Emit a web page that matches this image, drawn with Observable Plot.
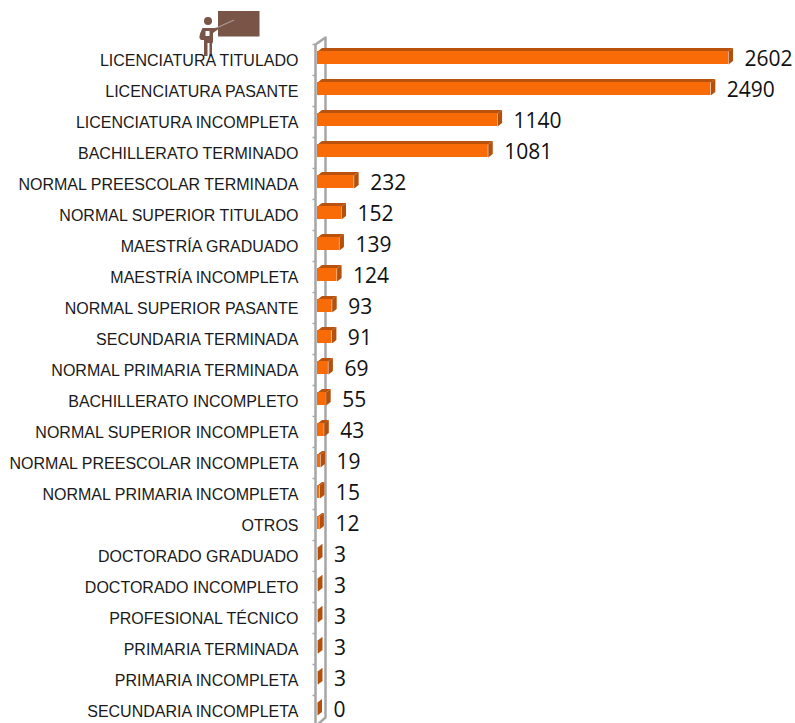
<!DOCTYPE html>
<html><head><meta charset="utf-8">
<script src="https://cdn.jsdelivr.net/npm/d3@7"></script>
<script src="https://cdn.jsdelivr.net/npm/@observablehq/plot@0.6"></script>
<style>html,body{margin:0;padding:0;background:#fff;overflow:hidden}#wrap{position:relative;width:795px;height:723px}#wrap>svg{position:absolute;left:0;top:0}</style>
</head><body><div id="wrap">
<svg id="icon" width="795" height="723" style="z-index:0">
<rect x="218" y="11" width="41.5" height="25.5" fill="#795548"/>
<line x1="214" y1="29" x2="234" y2="20" stroke="#a89a94" stroke-width="1.3"/>
<circle cx="208" cy="21" r="4" fill="#795548"/>
<path d="M203 28h9l8 0-7 5v9l-1 2v12h-2.5V43h-2v13H204V40h-2.5q-2.500-1-2-4t3-8z" fill="#795548"/>
<rect x="205.500" y="31" width="4" height="5" fill="#fff"/>
</svg>
<div id="chart"></div></div>
<script>
const categories = ["LICENCIATURA TITULADO","LICENCIATURA PASANTE","LICENCIATURA INCOMPLETA","BACHILLERATO TERMINADO","NORMAL PREESCOLAR TERMINADA","NORMAL SUPERIOR TITULADO","MAESTRÍA GRADUADO","MAESTRÍA INCOMPLETA","NORMAL SUPERIOR PASANTE","SECUNDARIA TERMINADA","NORMAL PRIMARIA TERMINADA","BACHILLERATO INCOMPLETO","NORMAL SUPERIOR INCOMPLETA","NORMAL PREESCOLAR INCOMPLETA","NORMAL PRIMARIA INCOMPLETA","OTROS","DOCTORADO GRADUADO","DOCTORADO INCOMPLETO","PROFESIONAL TÉCNICO","PRIMARIA TERMINADA","PRIMARIA INCOMPLETA","SECUNDARIA INCOMPLETA"];
const values = [2602,2490,1140,1081,232,152,139,124,93,91,69,55,43,19,15,12,3,3,3,3,3,0];

const rows = categories.map((c,i)=>({c,i,v:values[i]}));
const xUnit = 2602/411, yUnit = 1/31;          // one pixel, in scale units
const depthX = 4.5*xUnit, depthY = 3.5*yUnit;
const barTop = -9*yUnit, barBottom = 4*yUnit, offsetValue = -1*yUnit;

const topFace = rows.flatMap(d=>[
  {z:d.i,x:0,y:d.i+barTop},{z:d.i,x:d.v,y:d.i+barTop},
  {z:d.i,x:d.v+depthX,y:d.i+barTop-depthY},{z:d.i,x:depthX,y:d.i+barTop-depthY}]);
const sideFace = rows.flatMap(d=>[
  {z:d.i,x:d.v,y:d.i+barTop},{z:d.i,x:d.v,y:d.i+barBottom},
  {z:d.i,x:d.v+depthX,y:d.i+barBottom-depthY},{z:d.i,x:d.v+depthX,y:d.i+barTop-depthY}]);

const frontX=-2*xUnit, backX=8*xUnit, wallTop=-23*yUnit, firstTick=-16*yUnit;
const wall=[{x:frontX,y:-16*yUnit},{x:frontX,y:666*yUnit},{x:backX,y:657*yUnit},{x:backX,y:wallTop},{x:frontX,y:-16*yUnit}];
const ticks=d3.range(categories.length).map(i=>({y:i+firstTick}));

const plot = Plot.plot({
  width:795,height:723,marginLeft:298,marginRight:0,marginTop:0,marginBottom:0,
  style:{background:"transparent",overflow:"hidden"},
  x:{domain:[0,2602],range:[317,728],axis:null},
  y:{domain:[0,21],range:[60,711],axis:null},
  marks:[
    Plot.axisY({ticks:d3.range(categories.length),tickFormat:i=>categories[i],tickSize:0,tickPadding:0,
      anchor:"left",label:null,fontSize:16,fontFamily:"Liberation Sans",fill:"#1a1a1a"}),
    Plot.ruleY(ticks,{y:"y",x1:-4.5*xUnit,x2:frontX,stroke:"#a6a6a6",strokeWidth:1.500}),
    Plot.line(wall,{x:"x",y:"y",stroke:"#a6a6a6",strokeWidth:2.500}),
    Plot.line(topFace,{x:"x",y:"y",z:"z",fill:"#b9520d",stroke:null}),
    Plot.line(sideFace,{x:"x",y:"y",z:"z",fill:"#b4500c",stroke:null}),
    Plot.rectX(rows,{x1:0,x2:"v",y1:d=>d.i+barTop,y2:d=>d.i+barBottom,fill:"#f96b07"}),
    Plot.text(rows,{x:"v",y:d=>d.i+offsetValue,text:d=>String(d.v),textAnchor:"start",dx:16,
      fontSize:21,fontFamily:"Open Sans",fill:"#111"})
  ]
});
plot.style.position="absolute";plot.style.left="0";plot.style.top="0";plot.style.zIndex="1";
document.getElementById("chart").append(plot);
</script></body></html>
